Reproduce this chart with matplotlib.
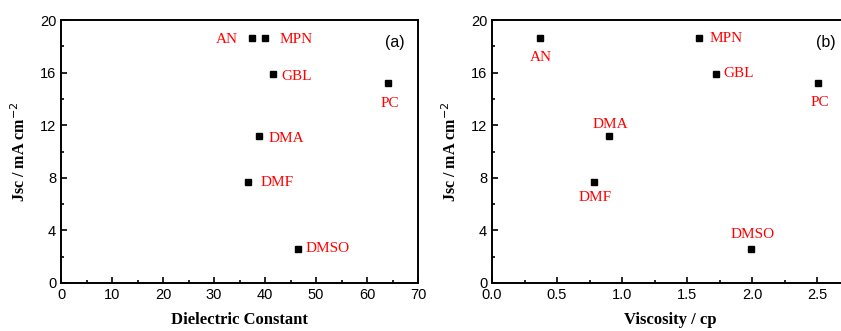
import matplotlib
matplotlib.use("Agg")
import matplotlib.pyplot as plt
from matplotlib.ticker import MultipleLocator

# solvent data
solvents = ["AN", "MPN", "GBL", "PC", "DMA", "DMF", "DMSO"]
dielectric = [37.5, 40.0, 41.6, 64.2, 38.8, 36.6, 46.4]
viscosity = [0.367, 1.595, 1.72, 2.51, 0.90, 0.787, 1.99]
jsc = [18.63, 18.63, 15.9, 15.2, 11.17, 7.7, 2.62]

# label offsets in pixels (dx, dy)
offs_a = [(-25, -1), (31, -1), (23, -3), (1, -20), (27, -2), (29, -1), (30, 0)]
offs_b = [(1, -19), (27, 0), (23, 0), (2, -19), (1, 12), (1, -16), (2, 14)]

plt.rcParams["font.family"] = "Liberation Sans"
fig = plt.figure(figsize=(8.41, 3.31), dpi=100)

ax1 = fig.add_axes([61 / 841, 1 - 283 / 331, 357 / 841, 263 / 331])
ax2 = fig.add_axes([492 / 841, 1 - 283 / 331, 357.5 / 841, 263 / 331])


def style(ax, xmax, xmaj, xmin, xlabel, tag, tagx):
    ax.set_ylim(0, 20)
    ax.set_xlim(0, xmax)
    ax.xaxis.set_major_locator(MultipleLocator(xmaj))
    ax.xaxis.set_minor_locator(MultipleLocator(xmin))
    ax.yaxis.set_major_locator(MultipleLocator(4))
    ax.yaxis.set_minor_locator(MultipleLocator(2))
    ax.tick_params(which="both", direction="in", labelsize=10.5, width=1.2)
    ax.tick_params(which="major", length=4)
    ax.tick_params(which="minor", length=2.5)
    for s in ax.spines.values():
        s.set_linewidth(1.4)
    ax.set_xlabel(xlabel, family="Liberation Serif", fontweight="bold",
                  fontsize=12, labelpad=7)
    ax.set_ylabel("Jsc / mA cm$^{-2}$", family="Liberation Serif",
                  fontweight="bold", fontsize=11.5, labelpad=8)
    ax.text(tagx, 18.3, tag, fontsize=11.5, ha="center", va="center")


def plot_points(ax, xs, offs):
    ax.plot(xs, jsc, "s", color="black", markersize=3.8, linestyle="none")
    for name, x, y, (dx, dy) in zip(solvents, xs, jsc, offs):
        ax.annotate(name, (x, y), xytext=(dx, dy), textcoords="offset pixels",
                    ha="center", va="center", color="red",
                    family="Liberation Serif", fontsize=11)


plot_points(ax1, dielectric, offs_a)
style(ax1, 70, 10, 5, "Dielectric Constant", "(a)", 65.5)
ax1.yaxis.set_major_formatter(plt.FuncFormatter(lambda v, p: f"{v:.0f}"))

plot_points(ax2, viscosity, offs_b)
style(ax2, 2.75, 0.5, 0.25, "Viscosity / cp", "(b)", 2.57)

fig.savefig("out.png", dpi=100)
